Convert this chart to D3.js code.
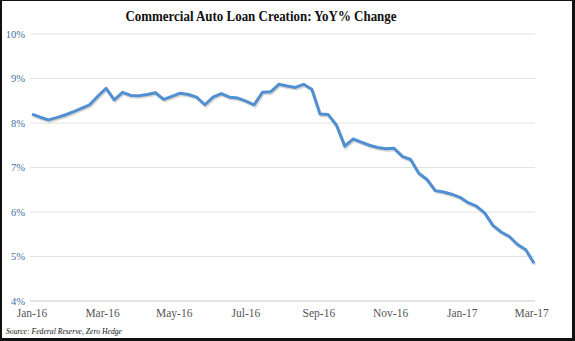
<!DOCTYPE html>
<html>
<head>
<meta charset="utf-8">
<title>Commercial Auto Loan Creation: YoY% Change</title>
<script src="https://d3js.org/d3.v7.min.js"></script>
<style>
  body { margin: 0; background: #fff; }
  svg { display: block; }
  .title { font: bold 14.5px "Liberation Serif", serif; fill: #111; }
  .ylab { font: 10.5px "Liberation Serif", serif; fill: #3f6f9f; }
  .xlab { font: 11.5px "Liberation Serif", serif; fill: #555; }
  .src { font: italic 9px "Liberation Serif", serif; fill: #111; }
</style>
</head>
<body>
<script>
// weekly observations (Friday of each week)
var weeks = [
  "2016-01-01","2016-01-08","2016-01-15","2016-01-22","2016-01-29",
  "2016-02-05","2016-02-12","2016-02-19","2016-02-26",
  "2016-03-04","2016-03-11","2016-03-18","2016-03-25",
  "2016-04-01","2016-04-08","2016-04-15","2016-04-22","2016-04-29",
  "2016-05-06","2016-05-13","2016-05-20","2016-05-27",
  "2016-06-03","2016-06-10","2016-06-17","2016-06-24",
  "2016-07-01","2016-07-08","2016-07-15","2016-07-22","2016-07-29",
  "2016-08-05","2016-08-12","2016-08-19","2016-08-26",
  "2016-09-02","2016-09-09","2016-09-16","2016-09-23","2016-09-30",
  "2016-10-07","2016-10-14","2016-10-21","2016-10-28",
  "2016-11-04","2016-11-11","2016-11-18","2016-11-25",
  "2016-12-02","2016-12-09","2016-12-16","2016-12-23","2016-12-30",
  "2017-01-06","2017-01-13","2017-01-20","2017-01-27",
  "2017-02-03","2017-02-10","2017-02-17","2017-02-24",
  "2017-03-03"
];
var yoy = [
  8.20, 8.13, 8.07, 8.12, 8.18,
  8.25, 8.33, 8.41, 8.60,
  8.78, 8.52, 8.69, 8.62,
  8.61, 8.64, 8.68, 8.53, 8.60,
  8.67, 8.64, 8.58, 8.41,
  8.58, 8.66, 8.58, 8.56,
  8.49, 8.41, 8.69, 8.70, 8.87,
  8.83, 8.80, 8.87, 8.76,
  8.20, 8.19, 7.95, 7.48, 7.64,
  7.57, 7.50, 7.45, 7.42,
  7.43, 7.25, 7.18, 6.87,
  6.73, 6.48, 6.45, 6.40, 6.33,
  6.21, 6.13, 5.98, 5.70,
  5.55, 5.45, 5.27, 5.15,
  4.85
];
var yTicks = [4, 5, 6, 7, 8, 9, 10];
var xTicks = ["2016-01-01","2016-03-01","2016-05-01","2016-07-01",
              "2016-09-01","2016-11-01","2017-01-01","2017-03-01"];

var W = 575, H = 341;
var parse = d3.timeParse("%Y-%m-%d");
var data = weeks.map(function(d, i) { return {date: parse(d), v: yoy[i]}; });

var svg = d3.select("body").append("svg")
    .attr("width", W)
    .attr("height", H);

// frame
svg.append("rect").attr("width", W).attr("height", H).attr("fill", "#111");
svg.append("rect").attr("x", 2).attr("y", 1).attr("width", W - 5).attr("height", H - 4).attr("fill", "#fff");

var x = d3.scaleTime()
    .domain([parse("2016-01-01"), parse("2017-03-03")])
    .range([32, 534]);
var y = d3.scaleLinear().domain([4, 10]).range([301, 34]);

// gridlines
svg.append("g").selectAll("line")
    .data(yTicks)
  .enter().append("line")
    .attr("x1", 30).attr("x2", 535)
    .attr("y1", function(d) { return y(d); })
    .attr("y2", function(d) { return y(d); })
    .attr("stroke", function(d) { return d === 4 ? "#e4e4e4" : "#e2e2e2"; })
    .attr("stroke-width", function(d) { return d === 4 ? 2 : 1; });

// y labels
svg.append("g").selectAll("text")
    .data(yTicks)
  .enter().append("text")
    .attr("class", "ylab")
    .attr("x", 25)
    .attr("y", function(d) { return y(d) + 3.5; })
    .attr("text-anchor", "end")
    .text(function(d) { return d + "%"; });

// x labels
var fmt = d3.timeFormat("%b-%y");
svg.append("g").selectAll("text")
    .data(xTicks)
  .enter().append("text")
    .attr("class", "xlab")
    .attr("x", function(d) { return x(parse(d)); })
    .attr("y", 317)
    .attr("text-anchor", "middle")
    .text(function(d) { return fmt(parse(d)); });

// line with soft shadow
var line = d3.line()
    .x(function(d) { return x(d.date); })
    .y(function(d) { return y(d.v); });

svg.append("path")
    .datum(data)
    .attr("d", line)
    .attr("transform", "translate(1,1.5)")
    .attr("fill", "none")
    .attr("stroke", "#b9b2a8")
    .attr("stroke-opacity", 0.55)
    .attr("stroke-width", 3);

svg.append("path")
    .datum(data)
    .attr("d", line)
    .attr("fill", "none")
    .attr("stroke", "#4f8fd2")
    .attr("stroke-width", 3)
    .attr("stroke-linejoin", "round");

svg.append("text")
    .attr("class", "title")
    .attr("x", 261)
    .attr("y", 21)
    .attr("text-anchor", "middle")
    .attr("textLength", 271)
    .attr("lengthAdjust", "spacingAndGlyphs")
    .text("Commercial Auto Loan Creation: YoY% Change");

svg.append("text")
    .attr("class", "src")
    .attr("x", 6)
    .attr("y", 334)
    .attr("textLength", 116)
    .attr("lengthAdjust", "spacingAndGlyphs")
    .text("Source: Federal Reserve, Zero Hedge");
</script>
</body>
</html>
